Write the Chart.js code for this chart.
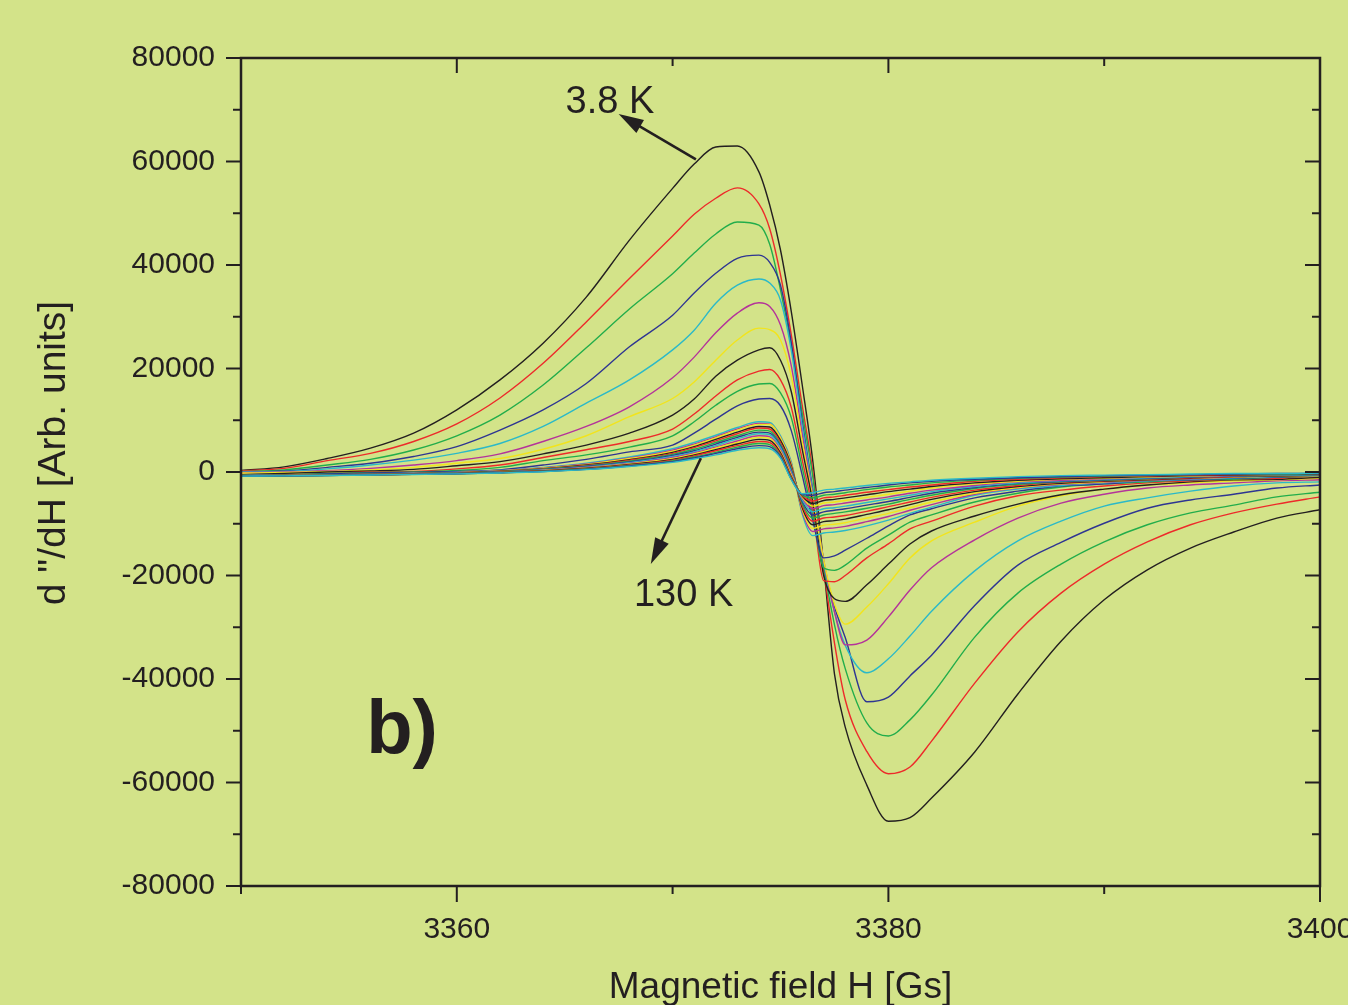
<!DOCTYPE html>
<html>
<head>
<meta charset="utf-8">
<script src="https://cdn.jsdelivr.net/npm/chart.js@4.4.1/dist/chart.umd.min.js"></script>
<style>
  html, body { margin: 0; padding: 0; background: #d3e389; overflow: hidden; }
  #wrap { width: 1348px; height: 1005px; position: relative; }
  canvas { display: block; }
</style>
</head>
<body>
<div id="wrap"><canvas id="c" width="1348" height="1005"></canvas></div>
<script>
// ---------------- DATA ----------------
// Magnetic field H [Gs] sample positions shared by all curves
const FIELD = [3350, 3352, 3354, 3356, 3358, 3360, 3362, 3364, 3366, 3368, 3370, 3371, 3372, 3373, 3374, 3374.5, 3375, 3375.5, 3376, 3376.5, 3377, 3377.5, 3378, 3379, 3380, 3381, 3382, 3384, 3386, 3388, 3390, 3392, 3394, 3396, 3398, 3400];

// d"/dH curves, from 3.8 K (largest) to 130 K (smallest)
const curve01 = [300, 1000, 2600, 4600, 7500, 12000, 17800, 24900, 33800, 44800, 54800, 59500, 62800, 63000, 58000, 51600, 42900, 31000, 17000, 2000, -18000, -39000, -49300, -60500, -67500, -66800, -63000, -54100, -42900, -32700, -24700, -18900, -14700, -11600, -8900, -7300];
const curve02 = [200, 700, 2200, 3600, 5900, 9300, 14300, 21000, 29000, 37400, 45600, 49800, 52900, 54900, 51800, 47000, 38100, 26500, 13000, 0, -18500, -33000, -44000, -54000, -58300, -57000, -52000, -40800, -30900, -23400, -17800, -13500, -10200, -7900, -6200, -4800];
const curve03 = [100, 400, 1350, 2450, 4250, 7000, 11000, 16800, 24000, 31500, 38300, 42300, 46000, 48300, 47700, 44000, 35200, 24500, 11500, -1000, -18000, -29500, -38000, -48500, -51000, -47900, -43100, -31900, -23400, -17800, -13500, -10200, -7900, -6400, -4800, -3900];
const curve04 = [0, 200, 900, 1700, 3000, 4900, 8100, 12000, 17100, 24200, 30300, 34600, 38400, 41300, 41900, 40500, 36100, 25000, 10000, -3500, -17500, -26000, -32000, -44400, -43500, -39400, -35400, -25800, -18000, -13600, -9900, -7000, -5400, -4300, -3100, -2500];
const curve05 = [0, 100, 600, 1350, 2300, 3600, 5500, 8800, 13300, 17800, 23600, 27400, 32600, 36100, 37300, 36500, 33200, 23500, 9000, -4000, -17500, -27000, -33500, -38800, -36100, -31700, -26900, -19100, -13300, -9500, -6600, -5000, -3700, -2700, -2100, -1900];
const curve06 = [-100, 0, 250, 700, 1350, 2200, 3500, 5900, 8800, 12600, 18200, 22200, 26900, 30700, 32700, 32000, 28400, 20500, 7500, -4500, -17000, -27000, -33400, -32500, -28000, -22800, -18500, -13100, -8900, -6000, -4300, -3100, -2500, -2100, -1700, -1500];
const curve07 = [-200, -100, 100, 400, 900, 1700, 2600, 4400, 7000, 10700, 14200, 17400, 21600, 25500, 27800, 27500, 25500, 18500, 6000, -5000, -17000, -25500, -29400, -26100, -21600, -16600, -13300, -9700, -6600, -4600, -3300, -2500, -2100, -1700, -1500, -1200];
const curve08 = [-500, -300, 0, 200, 500, 1200, 2000, 3500, 5200, 7500, 11000, 14100, 18500, 21600, 23600, 24000, 21600, 15500, 4500, -6000, -20000, -24500, -25000, -21800, -17800, -13900, -11400, -8500, -6200, -4400, -3300, -2500, -1900, -1500, -1400, -1000];
const curve09 = [-600, -500, -300, 0, 100, 600, 1350, 2800, 4300, 5900, 8300, 11200, 14700, 17800, 19500, 19800, 17800, 12500, 2500, -7500, -21000, -21200, -20000, -16600, -13900, -11000, -9500, -6600, -4600, -3500, -2700, -2100, -1700, -1400, -1200, -800];
const curve10 = [-600, -500, -300, -100, 0, 300, 900, 2200, 3300, 4800, 7000, 9700, 12900, 15600, 17000, 17100, 15300, 10500, 1000, -8500, -18500, -19000, -18000, -14700, -12200, -9700, -8300, -5800, -4100, -2900, -2300, -1900, -1500, -1400, -1000, -800];
const curve11 = [-700, -600, -400, -200, -100, 100, 400, 1350, 2450, 3900, 5200, 7500, 10200, 12800, 14100, 14200, 12800, 8000, -500, -9500, -16600, -16200, -15100, -12800, -10400, -8300, -7100, -5000, -3700, -2700, -2300, -1700, -1500, -1200, -1000, -600];
const curve12 = [-700, -650, -550, -400, -250, -50, 300, 900, 1700, 2900, 4500, 5700, 7100, 8600, 9700, 9600, 7000, 2000, -8000, -12300, -11800, -11600, -11300, -10400, -9300, -8000, -6800, -4500, -3300, -2600, -2100, -1700, -1400, -1100, -900, -700];
const curve13 = [-700, -650, -560, -420, -280, -100, 250, 800, 1550, 2700, 4200, 5400, 6800, 8300, 9400, 9300, 6700, 1700, -7600, -11500, -11000, -10800, -10500, -9600, -8600, -7400, -6300, -4300, -3100, -2400, -2000, -1600, -1300, -1000, -800, -700];
const curve14 = [-720, -660, -570, -430, -300, -120, 200, 750, 1450, 2600, 4000, 5200, 6600, 8100, 9200, 9200, 6600, 1500, -7200, -10900, -10300, -10100, -9800, -8900, -8000, -6900, -5800, -4100, -3000, -2300, -1900, -1500, -1200, -1000, -800, -700];
const curve15 = [-730, -670, -580, -450, -320, -150, 150, 650, 1350, 2400, 3800, 4900, 6300, 7700, 8800, 8700, 6100, 1200, -6800, -10200, -9600, -9400, -9100, -8200, -7300, -6300, -5300, -3800, -2800, -2200, -1800, -1500, -1200, -900, -800, -600];
const curve16 = [-740, -680, -590, -460, -340, -170, 100, 580, 1250, 2250, 3600, 4700, 6000, 7400, 8500, 8300, 5700, 900, -6400, -9500, -8900, -8700, -8400, -7600, -6700, -5800, -4900, -3500, -2600, -2000, -1700, -1400, -1100, -900, -700, -600];
const curve17 = [-750, -690, -600, -480, -360, -200, 50, 520, 1150, 2100, 3400, 4400, 5700, 7000, 8100, 7900, 5300, 600, -6000, -8900, -8300, -8000, -7700, -7000, -6200, -5300, -4500, -3200, -2400, -1900, -1600, -1300, -1000, -800, -700, -500];
const curve18 = [-760, -700, -610, -490, -380, -220, 0, 450, 1050, 1950, 3200, 4100, 5400, 6700, 7700, 7500, 5000, 300, -5600, -8300, -7700, -7400, -7100, -6400, -5700, -4900, -4100, -3000, -2200, -1800, -1500, -1200, -1000, -800, -600, -500];
const curve19 = [-760, -700, -620, -500, -390, -240, -30, 400, 950, 1800, 3000, 3900, 5100, 6400, 7400, 7200, 4700, 0, -5300, -7700, -7100, -6900, -6600, -5900, -5200, -4500, -3800, -2800, -2100, -1700, -1400, -1100, -900, -700, -600, -500];
const curve20 = [-770, -710, -630, -510, -400, -260, -60, 350, 870, 1650, 2800, 3700, 4800, 6000, 7000, 6800, 4300, -300, -5000, -7100, -6500, -6300, -6000, -5400, -4800, -4100, -3500, -2600, -1900, -1600, -1300, -1000, -800, -700, -500, -400];
const curve21 = [-770, -720, -640, -520, -410, -280, -80, 300, 800, 1550, 2600, 3500, 4600, 5700, 6700, 6500, 4000, -600, -4800, -6600, -6000, -5800, -5500, -4900, -4300, -3700, -3100, -2300, -1800, -1400, -1200, -1000, -800, -600, -500, -400];
const curve22 = [-780, -720, -650, -530, -420, -300, -100, 250, 720, 1450, 2450, 3300, 4300, 5400, 6300, 6100, 3700, -900, -4600, -6100, -5500, -5300, -5000, -4400, -3800, -3300, -2800, -2100, -1600, -1300, -1100, -900, -700, -600, -500, -400];
const curve23 = [-780, -730, -660, -540, -430, -320, -130, 200, 650, 1350, 2300, 3100, 4100, 5100, 5900, 5700, 3400, -1100, -4500, -5600, -5000, -4800, -4500, -3900, -3400, -2900, -2500, -1800, -1400, -1100, -900, -800, -600, -500, -400, -300];
const curve24 = [-790, -740, -670, -550, -450, -340, -150, 150, 580, 1250, 2150, 2900, 3800, 4800, 5500, 5300, 3100, -1300, -4400, -5000, -4500, -4300, -4000, -3400, -2900, -2500, -2100, -1600, -1200, -1000, -800, -700, -500, -400, -400, -300];
const curve25 = [-790, -740, -680, -560, -460, -350, -170, 100, 500, 1150, 2000, 2700, 3600, 4500, 5100, 4900, 2900, -1400, -4300, -4500, -4000, -3800, -3500, -3000, -2500, -2100, -1800, -1400, -1100, -900, -700, -600, -500, -400, -300, -300];
const curve26 = [-800, -750, -690, -570, -470, -360, -190, 50, 450, 1050, 1850, 2500, 3300, 4200, 4700, 4500, 2700, -1500, -4200, -4000, -3500, -3300, -3100, -2600, -2200, -1900, -1600, -1200, -900, -700, -600, -500, -400, -300, -300, -200];

const CURVES = [curve01, curve02, curve03, curve04, curve05, curve06, curve07, curve08, curve09, curve10, curve11, curve12, curve13,
                curve14, curve15, curve16, curve17, curve18, curve19, curve20, curve21, curve22, curve23, curve24, curve25, curve26];

// Tick values
const X_MAJOR = [3360, 3380, 3400];
const X_MINOR = [3350, 3370, 3390];
const Y_MAJOR = [-80000, -60000, -40000, -20000, 0, 20000, 40000, 60000, 80000];
const Y_MINOR = [-70000, -50000, -30000, -10000, 10000, 30000, 50000, 70000];

// Text
const X_TITLE = 'Magnetic field H [Gs]';
const Y_TITLE = 'd "/dH [Arb. units]';
const LABEL_LOW_T = '3.8 K';
const LABEL_HIGH_T = '130 K';
const PANEL_LABEL = 'b)';

// ---------------- STYLE ----------------
const BG = '#d3e389';
const INK = '#231f20';
const PALETTE = ['#231f20', '#ed2a2a', '#22ad4b', '#2e3592', '#2bb9c8', '#b4339a', '#f2e41c'];
const FONT = '"Liberation Sans", Arial, Helvetica, sans-serif';

// annotation anchors in data units (field, signal)
const ANN = {
  lowArrow:  { from: [3371.08, 60400], to: [3367.50, 69200] },
  lowText:   [3365.04, 69400],
  highArrow: { from: [3371.31, 2650], to: [3368.99, -17770] },
  highText:  [3368.21, -25830],
  panel:     [3355.80, -54230]
};

const bgPlugin = {
  id: 'bg',
  beforeDraw(chart) {
    const g = chart.ctx;
    g.save();
    g.fillStyle = BG;
    g.fillRect(0, 0, chart.width, chart.height);
    g.restore();
  }
};

function seg(g, x0, y0, x1, y1) {
  g.beginPath(); g.moveTo(x0, y0); g.lineTo(x1, y1); g.stroke();
}

function arrow(g, x0, y0, x1, y1, head, halfW) {
  const a = Math.atan2(y1 - y0, x1 - x0);
  const bx = x1 - head * Math.cos(a), by = y1 - head * Math.sin(a);
  seg(g, x0, y0, bx + 2 * Math.cos(a), by + 2 * Math.sin(a));
  g.beginPath();
  g.moveTo(x1, y1);
  g.lineTo(bx + halfW * Math.sin(a), by - halfW * Math.cos(a));
  g.lineTo(bx - halfW * Math.sin(a), by + halfW * Math.cos(a));
  g.closePath();
  g.fill();
}

const framePlugin = {
  id: 'frame',
  afterDatasetsDraw(chart) {
    const g = chart.ctx;
    const a = chart.chartArea;
    const xs = chart.scales.x, ys = chart.scales.y;
    g.save();
    g.strokeStyle = INK;
    g.lineWidth = 2.5;
    g.strokeRect(a.left, a.top, a.right - a.left, a.bottom - a.top);
    g.lineWidth = 2;
    X_MAJOR.forEach(v => {
      const p = xs.getPixelForValue(v);
      seg(g, p, a.bottom, p, a.bottom + 16);
      if (v < 3400) seg(g, p, a.top, p, a.top + 15);
    });
    X_MINOR.forEach(v => {
      const p = xs.getPixelForValue(v);
      seg(g, p, a.bottom, p, a.bottom + 8);
      if (v > 3350) seg(g, p, a.top, p, a.top + 8);
    });
    Y_MAJOR.forEach(v => {
      const p = ys.getPixelForValue(v);
      seg(g, a.left - 15, p, a.left, p);
      seg(g, a.right - 15, p, a.right, p);
    });
    Y_MINOR.forEach(v => {
      const p = ys.getPixelForValue(v);
      seg(g, a.left - 8, p, a.left, p);
      seg(g, a.right - 8, p, a.right, p);
    });
    g.restore();
  },
  afterDraw(chart) {
    const g = chart.ctx;
    const a = chart.chartArea;
    const xs = chart.scales.x, ys = chart.scales.y;
    const P = (pt) => [xs.getPixelForValue(pt[0]), ys.getPixelForValue(pt[1])];
    g.save();
    g.fillStyle = INK;
    g.strokeStyle = INK;
    g.lineWidth = 2.6;

    // arrows
    let f = P(ANN.lowArrow.from), t = P(ANN.lowArrow.to);
    arrow(g, f[0], f[1], t[0], t[1], 25, 7.5);
    f = P(ANN.highArrow.from); t = P(ANN.highArrow.to);
    arrow(g, f[0], f[1], t[0], t[1], 26, 7.5);

    // annotation texts
    g.textBaseline = 'alphabetic';
    g.textAlign = 'left';
    g.font = '38px ' + FONT;
    let p = P(ANN.lowText);
    g.fillText(LABEL_LOW_T, p[0], p[1]);
    p = P(ANN.highText);
    g.fillText(LABEL_HIGH_T, p[0], p[1]);
    g.font = 'bold 76px ' + FONT;
    p = P(ANN.panel);
    g.fillText(PANEL_LABEL, p[0], p[1]);

    // axis titles
    g.font = '37px ' + FONT;
    g.textAlign = 'center';
    g.fillText(X_TITLE, (a.left + a.right) / 2, 998);
    g.save();
    g.font = '39px ' + FONT;
    g.translate(65, 453);
    g.rotate(-Math.PI / 2);
    g.fillText(Y_TITLE, 0, 0);
    g.restore();
    g.restore();
  }
};

const datasets = CURVES.map((vals, i) => ({
  data: FIELD.map((h, j) => ({ x: h, y: vals[j] })),
  borderColor: PALETTE[i % PALETTE.length],
  borderWidth: 1.4,
  pointRadius: 0,
  fill: false,
  cubicInterpolationMode: 'monotone',
  order: CURVES.length - i
}));

new Chart(document.getElementById('c').getContext('2d'), {
  type: 'line',
  data: { datasets },
  options: {
    responsive: false,
    animation: false,
    devicePixelRatio: 1,
    events: [],
    layout: { padding: { top: 58, right: 28, left: 0, bottom: 0 } },
    plugins: { legend: { display: false }, tooltip: { enabled: false }, title: { display: false } },
    scales: {
      x: {
        type: 'linear',
        position: 'bottom',
        min: 3350,
        max: 3400,
        grid: { display: false, drawTicks: false },
        border: { display: false },
        ticks: { color: INK, font: { family: FONT, size: 30 }, padding: 26, maxRotation: 0, autoSkip: false,
                 callback: v => String(v) },
        afterBuildTicks: s => { s.ticks = X_MAJOR.map(v => ({ value: v })); },
        afterFit: s => { s.height = 119; s.paddingLeft = 0; s.paddingRight = 0; }
      },
      y: {
        type: 'linear',
        position: 'left',
        min: -80000,
        max: 80000,
        grid: { display: false, drawTicks: false },
        border: { display: false },
        ticks: { color: INK, font: { family: FONT, size: 30 }, padding: 26, autoSkip: false,
                 callback: v => String(v) },
        afterBuildTicks: s => { s.ticks = Y_MAJOR.map(v => ({ value: v })); },
        afterFit: s => { s.width = 241; s.paddingTop = 0; s.paddingBottom = 0; }
      }
    }
  },
  plugins: [bgPlugin, framePlugin]
});
</script>
</body>
</html>
